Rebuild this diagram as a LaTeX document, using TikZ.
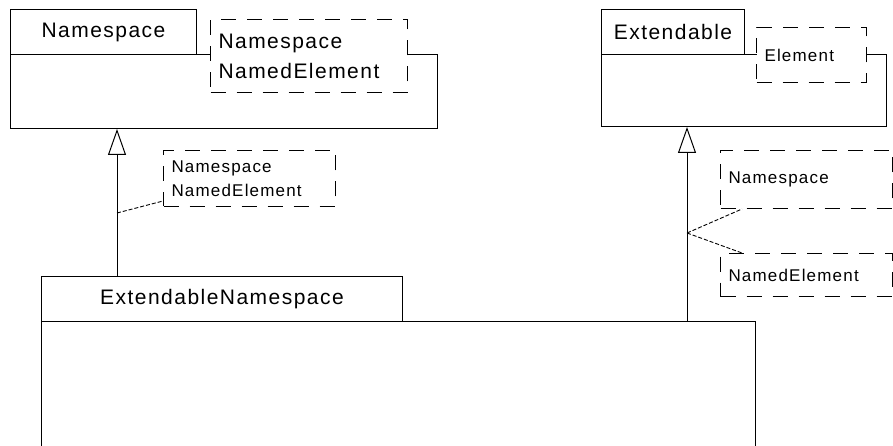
\documentclass[tikz,border=0pt]{standalone}
\usepackage{fontspec}
\setmainfont{Liberation Sans}[LetterSpace=7]
\usetikzlibrary{arrows.meta,positioning,calc}
\definecolor{umlink}{HTML}{000000}
\tikzset{
  classtab/.style={draw=umlink,line width=1pt,anchor=north west,inner sep=0pt,font=\fontsize{21}{30}\selectfont},
  classbody/.style={draw=umlink,line width=1pt,anchor=north west,inner sep=0pt},
  tmplbox/.style={draw=umlink,fill=white,line width=1pt,dash pattern=on 15pt off 11pt,anchor=north west,inner xsep=8pt,inner ysep=0pt,align=left},
  notebox/.style={tmplbox,font=\fontsize{17}{24}\selectfont},
  inherit/.style={-{Triangle[open,length=26pt,width=18pt,line width=1pt]},line width=1pt,umlink},
  notelink/.style={line width=0.9pt,dash pattern=on 4pt off 2pt,umlink}
}

\begin{document}
\begin{tikzpicture}[x=1pt,y=-1pt]
\useasboundingbox (0,0) rectangle (893,446);
\clip (0,0) rectangle (893,446);
\node[classbody,minimum width=427pt,minimum height=74pt] (nsBody) at (10,54) {};
\node[classtab,minimum width=186pt,minimum height=45pt] (nsTab) at (10,9) {Namespace};
\node[tmplbox,font=\fontsize{21}{30}\selectfont,minimum height=73pt,text width=181pt] (nsTmpl) at (210,19) {Namespace\\NamedElement};
\node[classbody,minimum width=285pt,minimum height=72pt] (extBody) at (601,54) {};
\node[classtab,minimum width=143pt,minimum height=45pt] (extTab) at (601,9) {Extendable};
\node[notebox,minimum height=55pt,text width=94pt] (extTmpl) at (756,27) {Element};
\node[classbody,minimum width=714pt,minimum height=160pt] (enBody) at (41,321) {};
\node[classtab,minimum width=361pt,minimum height=45pt] (enTab) at (41,276) {ExtendableNamespace};
\node[notebox,minimum height=56pt,text width=156pt] (noteA) at (163,150) {Namespace\\NamedElement};
\node[notebox,minimum height=58pt,text width=156pt] (noteB) at (720,150) {Namespace};
\node[notebox,minimum height=43pt,text width=156pt] (noteC) at (720,253) {NamedElement};
\coordinate (g1top) at ([xshift=107pt]nsBody.south west);
\coordinate (g2top) at ([xshift=86pt]extBody.south west);
\draw[inherit] (g1top |- enTab.north) -- (g1top);
\draw[inherit] (g2top |- enBody.north) -- (g2top);
\coordinate (j1) at (117,213);
\coordinate (j2) at (687,233);
\draw[notelink] (j1) -- ([yshift=6pt]noteA.south west);
\draw[notelink] (j2) -- ([xshift=22pt]noteB.south west);
\draw[notelink] (j2) -- ([xshift=22pt]noteC.north west);
\end{tikzpicture}
\end{document}
